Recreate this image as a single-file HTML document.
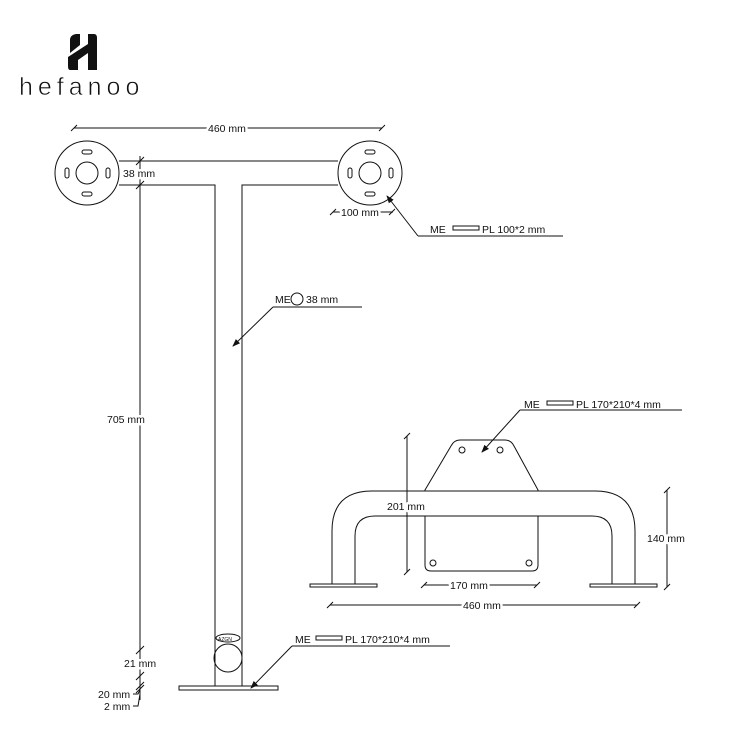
<!DOCTYPE html>
<html><head><meta charset="utf-8"><style>
html,body{margin:0;padding:0;background:#fff;}
svg{display:block;}
text{font-family:"Liberation Sans",Arial,sans-serif;font-size:10.5px;fill:#111;}
.t{stroke:#fff;stroke-width:5px;paint-order:stroke;stroke-linejoin:round;}
</style></head><body>
<svg width="750" height="750" viewBox="0 0 750 750" xmlns="http://www.w3.org/2000/svg">
<defs>
<marker id="ar" markerWidth="8" markerHeight="8" refX="7" refY="4" orient="auto" markerUnits="userSpaceOnUse">
<path d="M0,1 L8,4 L0,7 Z" fill="#111"/>
</marker>
</defs>
<!-- Logo -->
<g fill="#111">
<path d="M70,40 Q70,35 76,34 L80,34 L80,45 L70,53 Z"/>
<path d="M68,57 L88,44 L88,53 L78,60 L78,70 L70,70 Q68,70 68,66 Z"/>
<path d="M88,34 L94,34 Q97,34 97,38 L97,70 L88,70 Z"/>
</g>
<text x="19" y="95" style="font-size:25px;letter-spacing:5px;fill:#111;stroke:#fff;stroke-width:0.6px">hefanoo</text>

<g stroke="#111" stroke-width="1" fill="none">
<circle cx="87" cy="173" r="32" fill="#fff"/>
<circle cx="87" cy="173" r="11"/>
<rect x="82" y="150" width="10" height="4" rx="2"/>
<rect x="82" y="192" width="10" height="4" rx="2"/>
<rect x="65" y="168" width="4" height="10" rx="2"/>
<rect x="106" y="168" width="4" height="10" rx="2"/>
<circle cx="370" cy="173" r="32" fill="#fff"/>
<circle cx="370" cy="173" r="11"/>
<rect x="365" y="150" width="10" height="4" rx="2"/>
<rect x="365" y="192" width="10" height="4" rx="2"/>
<rect x="348" y="168" width="4" height="10" rx="2"/>
<rect x="389" y="168" width="4" height="10" rx="2"/>
<path d="M119,161 L338,161 M119,185 L215,185 L215,686 M242,686 L242,185 L338,185"/>
<rect x="179" y="686" width="99" height="4"/>
<circle cx="228" cy="658" r="14"/>
<ellipse cx="228" cy="638" rx="12" ry="4"/>
<path d="M74,128 L382,128 M71,131 L77,125 M379,131 L385,125"/>
<path d="M140,156 L140,700 M136,165 L144,157 M136,189 L144,181 M136,654 L144,646 M136,680 L144,672 M136,690 L144,682 M136,693 L144,685"/>
<path d="M133,694 L138,694 L140,690 M133,706 L138,706 L140,694"/>
<path d="M333,212 L393,212 M330,215 L336,209 M389,215 L395,209"/>
<path d="M418,236 L563,236" />
<path d="M418,236 L387,196" marker-end="url(#ar)"/>
<path d="M273,307 L362,307"/>
<path d="M273,307 L233,346" marker-end="url(#ar)"/>
<path d="M292,646 L450,646"/>
<path d="M292,646 L251,688" marker-end="url(#ar)"/>
<rect x="453" y="226" width="26" height="4"/>
<circle cx="297" cy="299" r="6"/>
<rect x="316" y="636" width="26" height="4"/>
<rect x="547" y="401" width="26" height="4"/>
<path d="M425,490 L451,446 Q454,440 460,440 L505,440 Q511,440 514,446 L538,490 L538,565 Q538,571 532,571 L431,571 Q425,571 425,565 Z" fill="#fff"/>
<circle cx="462" cy="450" r="3"/>
<circle cx="500" cy="450" r="3"/>
<circle cx="433" cy="563" r="3"/>
<circle cx="529" cy="563" r="3"/>
<path d="M332,584 L332,531 Q332,491 372,491 L595,491 Q635,491 635,531 L635,584 L612,584 L612,536 Q612,516 592,516 L375,516 Q355,516 355,536 L355,584 Z" fill="#fff" stroke="none"/>
<path d="M332,584 L332,531 Q332,491 372,491 L595,491 Q635,491 635,531 L635,584"/>
<path d="M355,584 L355,536 Q355,516 375,516 L592,516 Q612,516 612,536 L612,584"/>
<rect x="310" y="584" width="67" height="3"/>
<rect x="590" y="584" width="67" height="3"/>
<path d="M520,410 L682,410"/>
<path d="M520,410 L482,452" marker-end="url(#ar)"/>
<path d="M407,436 L407,572 M404,439 L410,433 M404,575 L410,569"/>
<path d="M667,490 L667,587 M664,493 L670,487 M664,590 L670,584"/>
<path d="M424,585 L537,585 M421,588 L427,582 M534,588 L540,582"/>
<path d="M330,605 L637,605 M327,608 L333,602 M634,608 L640,602"/>
</g>
<g>
<text class="t" x="208" y="132">460 mm</text>
<text class="t" x="123" y="177">38 mm</text>
<text class="t" x="107" y="423">705 mm</text>
<text class="t" x="124" y="667">21 mm</text>
<text class="t" x="98" y="698">20 mm</text>
<text class="t" x="104" y="710">2 mm</text>
<text class="t" x="341" y="216">100 mm</text>
<text x="430" y="233">ME</text>
<text x="482" y="233">PL 100*2 mm</text>
<text x="275" y="303">ME</text>
<text x="306" y="303">38 mm</text>
<text x="295" y="643">ME</text>
<text x="345" y="643">PL 170*210*4 mm</text>
<text x="524" y="408">ME</text>
<text x="576" y="408">PL 170*210*4 mm</text>
<text class="t" x="387" y="510">201 mm</text>
<text class="t" x="647" y="542">140 mm</text>
<text class="t" x="450" y="589">170 mm</text>
<text class="t" x="463" y="609">460 mm</text>
</g>
<text x="218" y="641" style="font-size:5px">AZGN</text>
</svg>
</body></html>
